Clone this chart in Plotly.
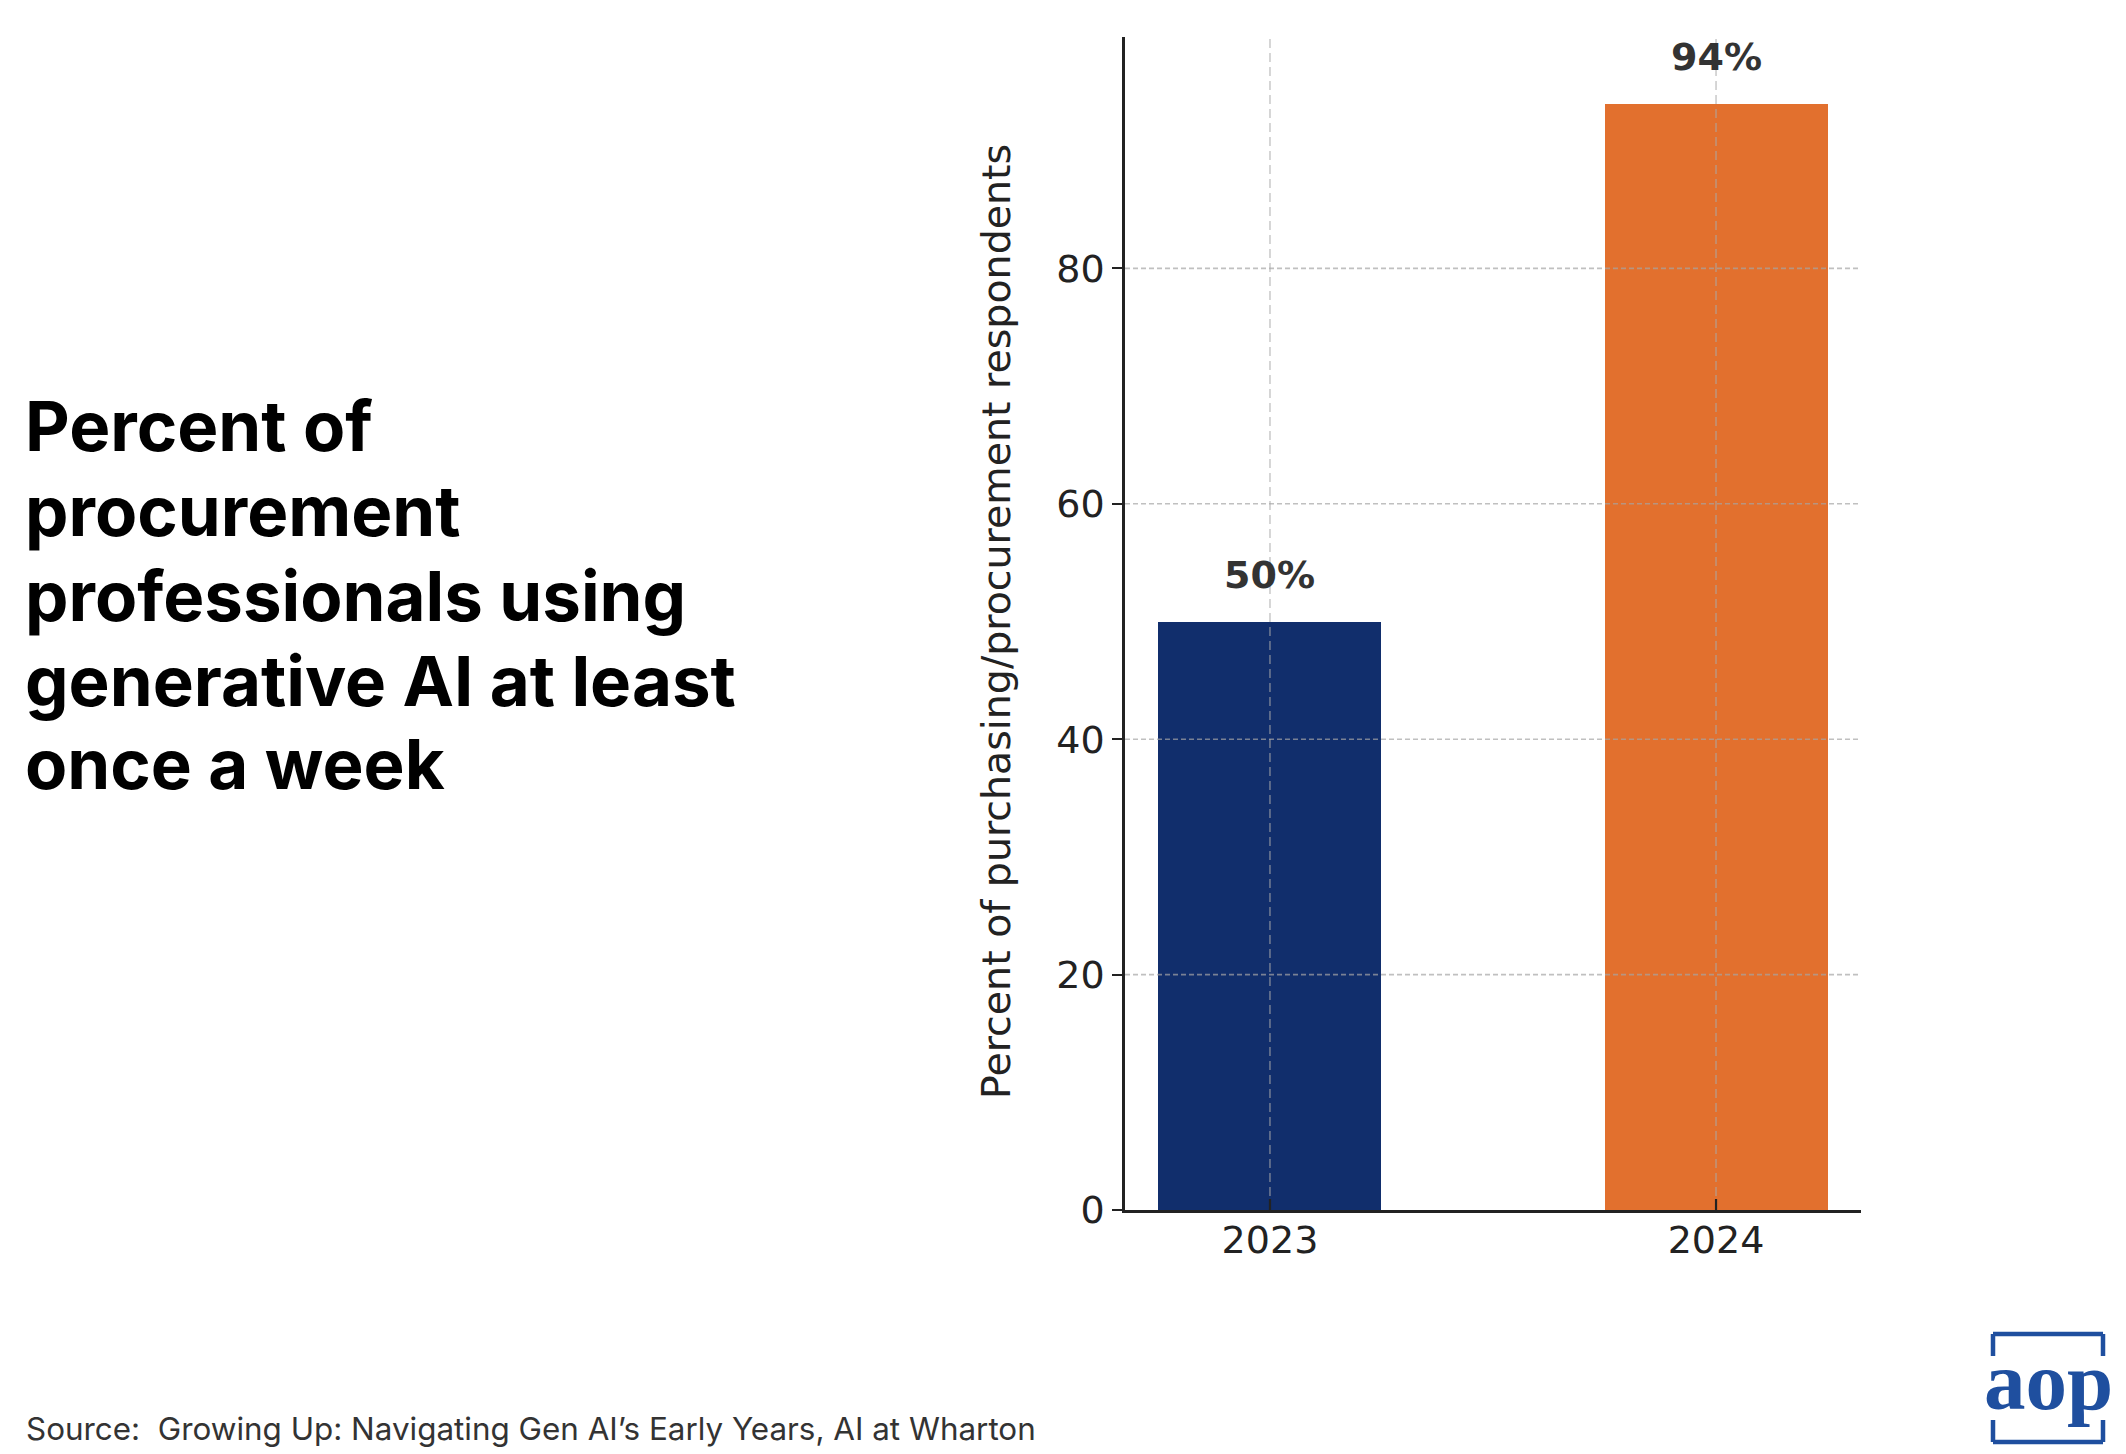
import plotly.graph_objects as go

# ---- data ----
years = ["2023", "2024"]
values = [50, 94]
bar_colors = ["#112e6c", "#e2702e"]
value_labels = ["50%", "94%"]
y_ticks = [0, 20, 40, 60, 80]
title_lines = ["Percent of", "procurement", "professionals using",
               "generative AI at least", "once a week"]
y_title = "Percent of purchasing/procurement respondents"
source_text = "Source:  Growing Up: Navigating Gen AI\u2019s Early Years, AI at Wharton"
logo_text = "aop"

W, H = 2126, 1454
L, R, T, B = 1117, 1853, 29, 1202


def px(x):
    return (x - L) / (R - L)


def py(y):
    return (B - y) / (B - T)


fig = go.Figure()
fig.add_trace(go.Bar(
    x=years, y=values, width=0.5,
    marker=dict(color=bar_colors, line=dict(width=0)),
    showlegend=False, hoverinfo="skip",
))

shapes = []
# gridlines drawn above bars
for t in y_ticks[1:]:
    shapes.append(dict(type="line", xref="paper", yref="y", x0=0, x1=1, y0=t, y1=t,
                       line=dict(color="rgba(165,165,165,0.7)", width=1.6, dash="5px,3px"),
                       layer="above"))
for i, yr in enumerate(years):
    shapes.append(dict(type="line", xref="x", yref="paper", x0=i, x1=i, y0=0, y1=1,
                       line=dict(color="rgba(170,170,170,0.6)", width=1.6, dash="9px,5px"),
                       layer="above"))
    # inward x tick
    shapes.append(dict(type="line", xref="x", yref="paper", x0=i, x1=i, y0=0, y1=py(1191),
                       line=dict(color="#222222", width=2.2), layer="above"))

# logo frame (brackets)
lc = "#1f4f9f"
lw = 4.5
fx0, fx1, fy0, fy1 = 1985, 2095, 1326, 1434
seg = 22
for (xa, ya, xb, yb) in [
    (fx0, fy0, fx1, fy0), (fx0, fy0, fx0, fy0 + seg), (fx1, fy0, fx1, fy0 + seg),
    (fx0, fy1, fx1, fy1), (fx0, fy1, fx0, fy1 - seg), (fx1, fy1, fx1, fy1 - seg),
]:
    shapes.append(dict(type="line", xref="paper", yref="paper",
                       x0=px(xa), y0=py(ya), x1=px(xb), y1=py(yb),
                       line=dict(color=lc, width=lw)))

annotations = []
# bar value labels
for i, (v, lab) in enumerate(zip(values, value_labels)):
    annotations.append(dict(x=i, y=v, xref="x", yref="y", text="<b>" + lab + "</b>",
                            showarrow=False, yanchor="middle", yshift=47,
                            font=dict(family="DejaVu Sans", size=38, color="#333333")))

# left title lines
mid_y = [418, 503, 588, 673, 756]
for line, yy in zip(title_lines, mid_y):
    annotations.append(dict(x=px(15), y=py(yy), xref="paper", yref="paper",
                            xanchor="left", yanchor="middle", showarrow=False,
                            text="<b>" + line + "</b>",
                            font=dict(family="Inter", size=69, color="#000000")))

# y axis title
annotations.append(dict(x=px(988), y=py(614), xref="paper", yref="paper",
                        textangle=-90, showarrow=False, text=y_title,
                        xanchor="center", yanchor="middle",
                        font=dict(family="DejaVu Sans", size=39.5, color="#222222")))

# source
annotations.append(dict(x=px(16), y=py(1421), xref="paper", yref="paper",
                        xanchor="left", yanchor="middle", showarrow=False,
                        text=source_text,
                        font=dict(family="Inter", size=31.4, color="#333333")))

# logo text
annotations.append(dict(x=px(2040), y=py(1373), xref="paper", yref="paper",
                        xanchor="center", yanchor="middle", showarrow=False,
                        text="<b>" + logo_text + "</b>",
                        font=dict(family="Liberation Serif", size=83, color=lc)))

fig.update_layout(
    width=W, height=H,
    margin=dict(l=L, r=W - R, t=T, b=H - B, pad=0),
    paper_bgcolor="white", plot_bgcolor="white",
    shapes=shapes, annotations=annotations,
    bargap=0,
    xaxis=dict(type="category", range=[-0.325, 1.325], showgrid=False,
               showline=True, linecolor="#222222", linewidth=2.5,
               ticks="", tickfont=dict(family="DejaVu Sans", size=38, color="#222222"),
               ticklabelstandoff=-5, zeroline=False, fixedrange=True),
    yaxis=dict(range=[0, 99.66], tickvals=y_ticks, showgrid=False,
               showline=True, linecolor="#222222", linewidth=2.5,
               ticks="outside", ticklen=10, tickwidth=2.2, tickcolor="#222222",
               tickfont=dict(family="DejaVu Sans", size=38, color="#222222"),
               zeroline=False, fixedrange=True),
)

fig.write_html("out.html")
